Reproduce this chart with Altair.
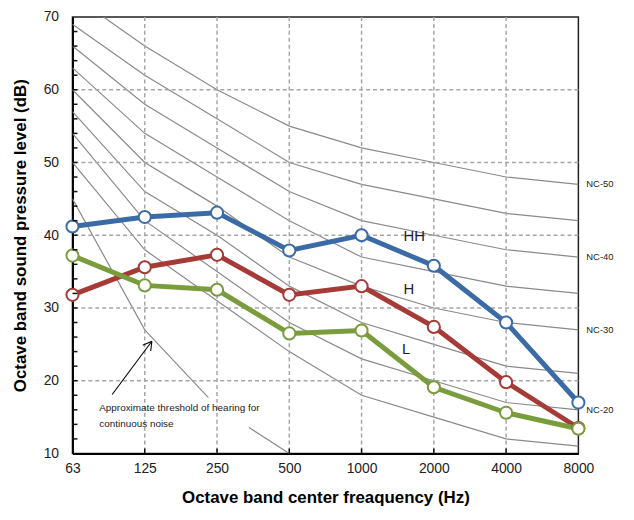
import altair as alt
import pandas as pd

# ---------------- data ----------------
freq_labels = ["63", "125", "250", "500", "1000", "2000", "4000", "8000"]
freq_index = [0, 1, 2, 3, 4, 5, 6, 7]

series_names = ["HH", "H", "L"]
hh_values = [41.2, 42.5, 43.1, 37.9, 40.0, 35.8, 28.0, 17.0]
h_values = [31.8, 35.6, 37.3, 31.8, 33.0, 27.4, 19.8, 13.5]
l_values = [37.2, 33.1, 32.5, 26.5, 26.9, 19.1, 15.6, 13.4]
series_colors = ["#3b6ba6", "#a63a37", "#7b9c3c"]

nc_names = ["NC-15", "NC-20", "NC-25", "NC-30", "NC-35", "NC-40", "NC-45", "NC-50"]
nc_15 = [50, 38, 31, 24, 18, 15, 12, 11]
nc_20 = [54, 42, 35, 28, 23, 20, 17, 16]
nc_25 = [57, 46, 40, 33, 28, 25, 22, 21]
nc_30 = [60, 50, 44, 37, 33, 30, 28, 27]
nc_35 = [63, 54, 48, 42, 37, 35, 33, 32]
nc_40 = [66, 58, 52, 46, 42, 40, 38, 37]
nc_45 = [69, 62, 56, 50, 47, 45, 43, 42]
nc_50 = [73, 66, 60, 55, 52, 50, 48, 47]
nc_all = [nc_15, nc_20, nc_25, nc_30, nc_35, nc_40, nc_45, nc_50]
nc_labelled = ["NC-20", "NC-30", "NC-40", "NC-50"]

threshold_index = [0, 1, 2, 3]
threshold_values = [45, 27, 16.4, 10]

series_label_x = [4.58, 4.58, 4.56]
series_label_y = [39.9, 32.6, 24.4]

note_lines = ["Approximate threshold of hearing for", "continuous noise"]
note_x = [0.37, 0.37]
note_y = [16.3, 14.0]
note_box = {"bx": 1.72, "bx2": 2.44, "by": 13.4, "by2": 17.7}

# arrow: shaft + two barbs (x, y, x2, y2) in data units
arrow_x = [0.549, 1.098, 1.098]
arrow_y = [18.10, 25.42, 25.42]
arrow_x2 = [1.098, 0.972, 1.083]
arrow_y2 = [25.42, 24.88, 24.08]

y_major = [10, 20, 30, 40, 50, 60, 70]
h_grid = [20.0, 30.0, 40.0, 50.0, 60.0]
v_grid = [1.0, 2.0, 3.0, 4.0, 5.0, 6.0]
y_minor = [float(v) for v in range(12, 70, 2)]
x_ticks = [1.0, 2.0, 3.0, 4.0, 5.0, 6.0]

FONT = "Liberation Sans"
W, H = 510, 440
X_MIN, X_MAX, Y_MIN, Y_MAX = 0.0, 7.0, 10.0, 70.0

# ---------------- tables ----------------
series_df = pd.DataFrame(
    [{"series": s, "idx": i, "db": v}
     for s, vals in zip(series_names, [hh_values, h_values, l_values])
     for i, v in zip(freq_index, vals)]
)
nc_df = pd.DataFrame(
    [{"curve": n, "idx": i, "db": v}
     for n, vals in zip(nc_names, nc_all)
     for i, v in zip(freq_index, vals)]
)
nc_lab_df = pd.DataFrame(
    [{"curve": n, "idx": 7, "db": vals[-1]} for n, vals in zip(nc_names, nc_all) if n in nc_labelled]
)
thr_df = pd.DataFrame({"idx": threshold_index, "db": threshold_values})
slab_df = pd.DataFrame({"series": series_names, "idx": series_label_x, "db": series_label_y})
note_df = pd.DataFrame({"text": note_lines, "idx": note_x, "db": note_y})
box_df = pd.DataFrame([note_box])
arrow_df = pd.DataFrame({"ax": arrow_x, "ay": arrow_y, "ax2": arrow_x2, "ay2": arrow_y2})

hgrid_df = pd.DataFrame({"gy": h_grid})
vgrid_df = pd.DataFrame({"gx": v_grid})
yminor_df = pd.DataFrame({"ty": y_minor})
xtick_df = pd.DataFrame({"tx": x_ticks})

xscale = alt.Scale(domain=[X_MIN, X_MAX], nice=False, zero=False)
yscale = alt.Scale(domain=[Y_MIN, Y_MAX], nice=False, zero=False)
label_expr = "[" + ",".join("'%s'" % s for s in freq_labels) + "][datum.value]"

x_axis = alt.Axis(
    values=freq_index, labelExpr=label_expr, grid=False, ticks=False, labelFlush=False,
    domainColor="#000", domainWidth=2, labelFontSize=14, labelColor="#222",
    labelPadding=8, title="Octave band center freaquency (Hz)",
    titleFontSize=17, titleFontWeight="bold", titleColor="#000", titlePadding=14,
)
y_axis = alt.Axis(
    values=y_major, grid=False, ticks=False, labelFlush=False,
    domainColor="#000", domainWidth=2, labelFontSize=14, labelColor="#222",
    labelPadding=14, title="Octave band sound pressure level (dB)",
    titleFontSize=17, titleFontWeight="bold", titleColor="#000", titlePadding=14,
)

X = alt.X("idx:Q", scale=xscale, axis=x_axis)
Y = alt.Y("db:Q", scale=yscale, axis=y_axis)

nc_lines = alt.Chart(nc_df).mark_line(color="#8a8a8a", strokeWidth=1.2, clip=True).encode(
    x=X, y=Y, detail="curve:N"
)
thr_line = alt.Chart(thr_df).mark_line(color="#8a8a8a", strokeWidth=1.2, clip=True).encode(
    x="idx:Q", y="db:Q"
)
box = alt.Chart(box_df).mark_rect(color="white").encode(
    x="bx:Q", x2="bx2", y="by:Q", y2="by2"
)
hgrid = alt.Chart(hgrid_df).mark_rule(
    color="#a6a6a6", strokeWidth=1.5, strokeDash=[4, 3]
).encode(y="gy:Q")
vgrid = alt.Chart(vgrid_df).mark_rule(
    color="#a6a6a6", strokeWidth=1.5, strokeDash=[4, 3]
).encode(x="gx:Q")
yminor = alt.Chart(yminor_df).mark_rule(color="#111", strokeWidth=1.5).encode(
    y="ty:Q", x=alt.value(0), x2=alt.value(5)
)
xtick = alt.Chart(xtick_df).mark_rule(color="#111", strokeWidth=1.5).encode(
    x="tx:Q", y=alt.value(H), y2=alt.value(H - 5)
)
color = alt.Color("series:N", scale=alt.Scale(domain=series_names, range=series_colors), legend=None)
lines = alt.Chart(series_df).mark_line(strokeWidth=5).encode(
    x="idx:Q", y="db:Q", color=color
)
points = alt.Chart(series_df).mark_point(
    filled=True, fill="white", size=150, strokeWidth=2, opacity=1
).encode(
    x="idx:Q", y="db:Q",
    stroke=alt.Stroke("series:N", scale=alt.Scale(domain=series_names, range=series_colors), legend=None),
)
slabels = alt.Chart(slab_df).mark_text(
    font=FONT, fontSize=15, color="#222", align="left", baseline="middle"
).encode(x="idx:Q", y="db:Q", text="series:N")
nclabels = alt.Chart(nc_lab_df).mark_text(
    font=FONT, fontSize=9.5, color="#222", align="left", baseline="middle", dx=8
).encode(x="idx:Q", y="db:Q", text="curve:N")
notes = alt.Chart(note_df).mark_text(
    font=FONT, fontSize=10, color="#222", align="left", baseline="middle"
).encode(x="idx:Q", y="db:Q", text="text:N")
arrow = alt.Chart(arrow_df).mark_rule(color="#000", strokeWidth=1.1).encode(
    x="ax:Q", y="ay:Q", x2="ax2", y2="ay2"
)

chart = alt.layer(
    nc_lines, thr_line, box, hgrid, vgrid,
    lines, points, slabels, nclabels, notes, arrow, yminor, xtick
).properties(
    width=W, height=H,
    autosize=alt.AutoSizeParams(type="none"),
    padding={"left": 65, "top": 7, "right": 48, "bottom": 62},
).configure(
    font=FONT
).configure_view(
    stroke="#222", strokeWidth=1.5
)

chart.save("out.html", embed_options={"renderer": "svg", "actions": False})
